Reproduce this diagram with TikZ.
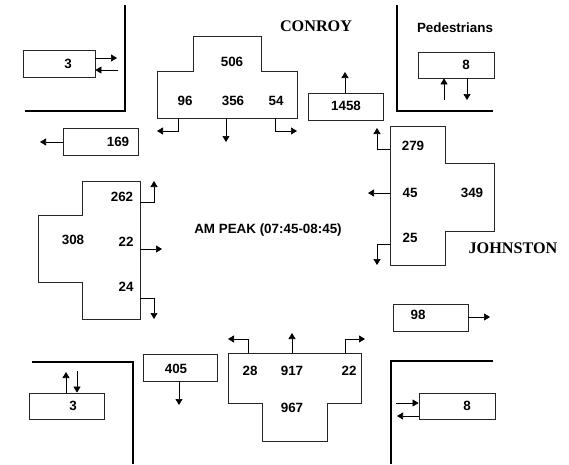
\documentclass[tikz,border=0pt]{standalone}
\usepackage{fontspec}
\setmainfont{Liberation Sans}
\newfontfamily\streetfont{Liberation Serif}
\usetikzlibrary{arrows.meta}
\begin{document}
\begin{tikzpicture}[x=1pt,y=-1pt,
  font=\bfseries\fontsize{13.4}{15}\selectfont,
  box/.style={draw=black!85, line width=0.8pt, inner sep=0pt},
  shapeline/.style={draw=black!85, line width=0.8pt},
  wall/.style={draw=black, line width=2.6pt},
  arr/.style={draw=black, line width=0.7pt, -{Triangle[length=6pt,width=7pt]}},
  num/.style={inner sep=0pt},
  street/.style={font=\streetfont\bfseries\fontsize{16.2}{18}\selectfont, inner sep=0pt}]
\useasboundingbox (0,0) rectangle (569,464);

% walls
\draw[wall] (125,5) -- (125,111) -- (25,111);
\draw[wall] (397,5) -- (397,111) -- (493,111);
\draw[wall] (32,362) -- (133,362) -- (133,464);
\draw[wall] (493,361) -- (391,361) -- (391,464);

% simple boxes
\node[box, minimum width=72pt, minimum height=27pt] (pTL) at (59,63.5) {};
\node[num] at (68,64) {3};
\node[box, minimum width=75pt, minimum height=27pt] (b169) at (100.5,141.5) {};
\node[num] at (118,142) {169};
\node[box, minimum width=75pt, minimum height=27pt] (b1458) at (345.5,106.5) {};
\node[num] at (346,106) {1458};
\node[box, minimum width=76pt, minimum height=26pt] (pTR) at (456,65) {};
\node[num] at (466,65) {8};
\node[box, minimum width=75pt, minimum height=27pt] (b98) at (430.5,317.5) {};
\node[num] at (418,315) {98};
\node[box, minimum width=74pt, minimum height=27pt] (b405) at (180,367.5) {};
\node[num] at (176,369) {405};
\node[box, minimum width=75pt, minimum height=26pt] (pBL) at (66.5,406) {};
\node[num] at (73,406) {3};
\node[box, minimum width=76pt, minimum height=26pt] (pBR) at (457,406) {};
\node[num] at (467,406) {8};

% box arrows
\coordinate (tl1) at (117,58); \coordinate (tl2) at (118,70);
\draw[arr] (pTL.east |- tl1) -- (tl1);
\draw[arr] (tl2) -- (pTL.east |- tl2);
\coordinate (w169) at (40,142);
\draw[arr] (b169.west |- w169) -- (w169);
\coordinate (n1458) at (345,72);
\draw[arr] (b1458.north -| n1458) -- (n1458);
\coordinate (tr1) at (444,100); \coordinate (tr2) at (467,100);
\draw[arr] (tr1) -- (pTR.south -| tr1);
\draw[arr] (pTR.south -| tr2) -- (tr2);
\coordinate (e98) at (490,317);
\draw[arr] (b98.east |- e98) -- (e98);
\coordinate (s405) at (179,405);
\draw[arr] (b405.south -| s405) -- (s405);
\coordinate (bl1) at (66,372); \coordinate (bl2) at (77,371);
\draw[arr] (pBL.north -| bl1) -- (bl1);
\draw[arr] (bl2) -- (pBL.north -| bl2);
\coordinate (br1) at (396,403); \coordinate (br2) at (397,416);
\draw[arr] (br1) -- (pBR.west |- br1);
\draw[arr] (pBR.west |- br2) -- (br2);

% Conroy approach
\draw[shapeline] (193,36) -- (261,36) -- (261,71) -- (297,71) -- (297,118) -- (157,118) -- (157,71) -- (193,71) -- cycle;
\node[num] at (232,62) {506};
\node[num] at (185,101) {96};
\node[num] at (233,101) {356};
\node[num] at (276,101) {54};
\draw[arr] (178,118) -- (178,131) -- (157,131);
\draw[arr] (226,118) -- (226,142);
\draw[arr] (275,118) -- (275,131) -- (297,131);

% West approach
\draw[shapeline] (82,181) -- (140,181) -- (140,319) -- (82,319) -- (82,282) -- (38,282) -- (38,215) -- (82,215) -- cycle;
\node[num] at (122,197) {262};
\node[num] at (73,240) {308};
\node[num] at (126,242) {22};
\node[num] at (126,287) {24};
\draw[arr] (140,202) -- (154,202) -- (154,181);
\draw[arr] (140,249) -- (162,249);
\draw[arr] (140,298) -- (154,298) -- (154,319);

% Johnston approach
\draw[shapeline] (390,126) -- (445,126) -- (445,163) -- (494,163) -- (494,231) -- (445,231) -- (445,265) -- (390,265) -- cycle;
\node[num] at (413,146) {279};
\node[num] at (410,193) {45};
\node[num] at (472,193) {349};
\node[num] at (410,238) {25};
\draw[arr] (390,149) -- (377,149) -- (377,128);
\draw[arr] (390,193) -- (368,193);
\draw[arr] (390,244) -- (377,244) -- (377,265);

% South approach
\draw[shapeline] (228,353) -- (361,353) -- (361,403) -- (327,403) -- (327,441) -- (262,441) -- (262,403) -- (228,403) -- cycle;
\node[num] at (250,371) {28};
\node[num] at (292,371) {917};
\node[num] at (349,371) {22};
\node[num] at (292,408) {967};
\draw[arr] (248,353) -- (248,339) -- (228,339);
\draw[arr] (292,353) -- (292,333);
\draw[arr] (345,353) -- (345,339) -- (365,339);

% labels
\node[street] (conroy) at (316,26) {CONROY};
\node[street] (johnston) at (513,248) {JOHNSTON};
\node[num] (ped) at (455,28) {Pedestrians};
\node[num] (peak) at (268,230) {AM PEAK (07:45-08:45)};
\end{tikzpicture}
\end{document}
